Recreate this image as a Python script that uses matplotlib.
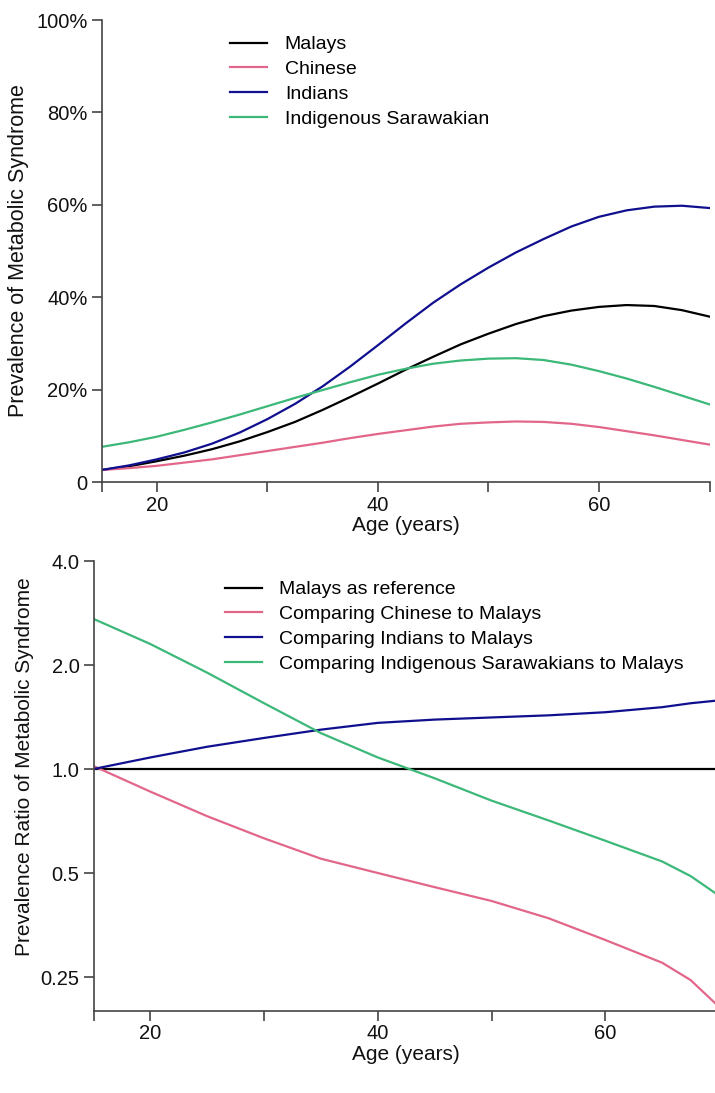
import matplotlib
matplotlib.use("Agg")
from matplotlib import pyplot as plt

plt.rcParams['font.family'] = ['Liberation Sans', 'DejaVu Sans']

# ages
age = [15, 17.5, 20, 22.5, 25, 27.5, 30, 32.5, 35, 37.5, 40, 42.5, 45,
       47.5, 50, 52.5, 55, 57.5, 60, 62.5, 65, 67.5, 70]

# prevalence (%) by ethnic group
malays = [2.6, 3.4, 4.5, 5.7, 7.1, 8.8, 10.8, 13.0, 15.6, 18.4, 21.3, 24.3, 27.1,
          29.8, 32.1, 34.2, 35.9, 37.1, 37.9, 38.3, 38.1, 37.2, 35.8]
chinese = [2.6, 3.0, 3.5, 4.2, 4.9, 5.8, 6.7, 7.6, 8.5, 9.5, 10.4, 11.2, 12.0,
           12.6, 12.9, 13.1, 13.0, 12.6, 11.9, 11.0, 10.1, 9.1, 8.1]
indians = [2.6, 3.6, 4.9, 6.4, 8.3, 10.7, 13.6, 16.9, 20.7, 25.0, 29.6, 34.3, 38.8,
           42.8, 46.4, 49.7, 52.6, 55.3, 57.4, 58.8, 59.6, 59.8, 59.3]
sarawak = [7.6, 8.6, 9.8, 11.3, 12.9, 14.6, 16.4, 18.2, 19.9, 21.6, 23.2, 24.5, 25.6,
           26.3, 26.7, 26.8, 26.4, 25.4, 24.0, 22.4, 20.6, 18.7, 16.8]

# prevalence ratios against Malays
age_r = [15, 20, 25, 30, 35, 40, 45, 50, 55, 60, 65, 67.5, 70]
pr_ref = [1.0] * len(age_r)
pr_chinese = [1.02, 0.86, 0.73, 0.63, 0.55, 0.50, 0.455, 0.415, 0.37, 0.32, 0.275, 0.245, 0.205]
pr_indians = [1.0, 1.08, 1.16, 1.23, 1.30, 1.36, 1.39, 1.41, 1.43, 1.46, 1.51, 1.55, 1.58]
pr_sarawak = [2.72, 2.3, 1.9, 1.55, 1.27, 1.08, 0.94, 0.81, 0.71, 0.62, 0.54, 0.49, 0.43]

top_labels = ['Malays', 'Chinese', 'Indians', 'Indigenous Sarawakian']
bottom_labels = ['Malays as reference', 'Comparing Chinese to Malays',
                 'Comparing Indians to Malays',
                 'Comparing Indigenous Sarawakians to Malays']
colors = ['black', '#e2668a', '#10108f', '#3cb878']

W, H = 715, 1093
fig = plt.figure(figsize=(W / 100, H / 100), dpi=100)


def style(ax):
    for s in ['top', 'right']:
        ax.spines[s].set_visible(False)
    for s in ['left', 'bottom']:
        ax.spines[s].set_color('#444444')
        ax.spines[s].set_linewidth(1.2)
    ax.tick_params(direction='out', length=7, width=1.2, color='#444444',
                   labelsize=14.5, labelcolor='#111111', pad=3)
    ax.set_xlim(15, 70)
    ax.set_xticks([15, 20, 30, 40, 50, 60, 70])
    ax.set_xticklabels(['', '20', '', '40', '', '60', ''])
    ax.set_xlabel('Age (years)', fontsize=15, color='#111111', labelpad=1)


# top panel
ax1 = fig.add_axes([101.5 / W, 1 - 482 / H, 608 / W, 462 / H])
for ys, c, lab in zip([malays, chinese, indians, sarawak], colors, top_labels):
    ax1.plot(age, [v / 100 for v in ys], color=c, lw=1.6, label=lab)
ax1.set_ylim(0, 1)
ax1.set_yticks([0, 0.2, 0.4, 0.6, 0.8, 1.0])
ax1.set_yticklabels(['0', '20%', '40%', '60%', '80%', '100%'])
ax1.set_ylabel('Prevalence of Metabolic Syndrome', fontsize=15.5, color='#111111')
ax1.yaxis.set_label_coords(-0.119, 0.5)
style(ax1)
ax1.legend(loc='upper left', bbox_to_anchor=(0.212, 0.966), frameon=False,
           fontsize=14, handlelength=1.9, handletextpad=0.9, labelspacing=0.37,
           borderaxespad=0, borderpad=0)

# bottom panel
ax2 = fig.add_axes([93.5 / W, 1 - 1010.5 / H, 625.5 / W, 449.5 / H])
for ys, c, lab in zip([pr_ref, pr_chinese, pr_indians, pr_sarawak], colors, bottom_labels):
    ax2.plot(age_r, ys, color=c, lw=1.6, label=lab)
ax2.set_yscale('log')
ax2.set_ylim(0.2, 4.0)
ax2.set_yticks([0.25, 0.5, 1.0, 2.0, 4.0])
ax2.set_yticklabels(['0.25', '0.5', '1.0', '2.0', '4.0'])
ax2.minorticks_off()
ax2.set_ylabel('Prevalence Ratio of Metabolic Syndrome', fontsize=15, color='#111111')
ax2.yaxis.set_label_coords(-0.095, 0.542)
style(ax2)
ax2.legend(loc='upper left', bbox_to_anchor=(0.21, 0.956), frameon=False,
           fontsize=14, handlelength=1.9, handletextpad=0.9, labelspacing=0.37,
           borderaxespad=0, borderpad=0)

fig.savefig('out.png', dpi=100)
